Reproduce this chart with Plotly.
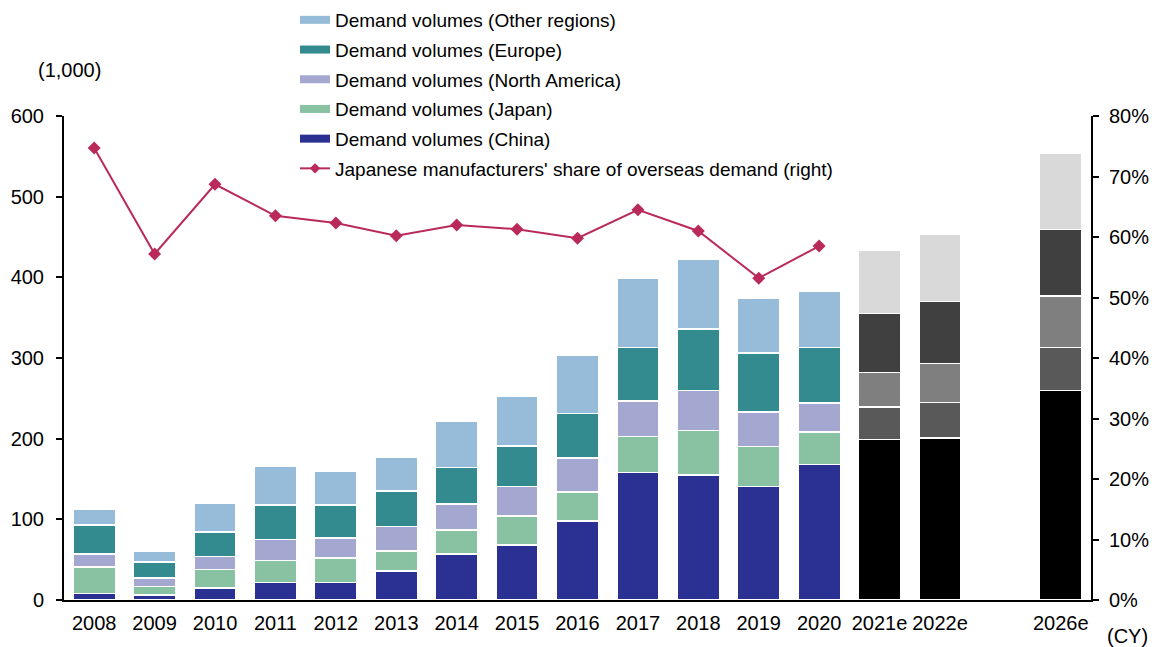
import plotly.graph_objects as go

# categories (empty string = gap slot before 2026e)
years = ["2008", "2009", "2010", "2011", "2012", "2013", "2014", "2015", "2016",
         "2017", "2018", "2019", "2020", "2021e", "2022e", "", "2026e"]

# demand volumes (1,000 units)
china = [8, 6, 15, 22, 22, 36, 57, 68, 98, 158, 155, 141, 168, 199, 201, None, 260]
japan = [33, 11, 23, 27, 30, 25, 30, 36, 36, 45, 55, 49, 40, 40, 44, None, 53]
north_america = [16, 10, 16, 26, 25, 30, 32, 37, 42, 44, 50, 43, 36, 43, 48, None, 64]
europe = [36, 20, 30, 43, 41, 44, 45, 50, 55, 66, 76, 73, 69, 73, 77, None, 82]
other = [20, 14, 36, 48, 41, 42, 57, 62, 72, 86, 86, 68, 70, 79, 84, None, 95]

# Japanese manufacturers' share of overseas demand (right axis)
share = [0.747, 0.572, 0.687, 0.635, 0.623, 0.602, 0.620, 0.613, 0.598, 0.645,
         0.610, 0.532, 0.585, None, None, None, None]

n_actual = 13
x = list(range(len(years)))

series = [
    ("Demand volumes (China)", china, "#2B3192", "#000000"),
    ("Demand volumes (Japan)", japan, "#88C2A2", "#595959"),
    ("Demand volumes (North America)", north_america, "#A4A8D0", "#7F7F7F"),
    ("Demand volumes (Europe)", europe, "#338A8F", "#404040"),
    ("Demand volumes (Other regions)", other, "#97BCD9", "#D9D9D9"),
]

fig = go.Figure()

for name, vals, col, grey in series:
    colors = [col if i < n_actual else grey for i in range(len(years))]
    fig.add_trace(go.Bar(
        x=x, y=vals, name=name, marker=dict(color=colors, line=dict(color="white", width=1.5)),
        width=0.7, showlegend=False,
    ))

fig.add_trace(go.Scatter(
    x=x, y=share, yaxis="y2", mode="lines+markers", showlegend=False,
    line=dict(color="#B92A5B", width=2),
    marker=dict(symbol="diamond", size=10, color="#B92A5B"),
))

# legend entries (thick lines, like the original)
rank = 1
for name, vals, col, grey in reversed(series):
    fig.add_trace(go.Scatter(
        x=[None], y=[None], mode="lines", name=name, legendgroup=name, legendrank=rank,
        line=dict(color=col, width=8),
    ))
    rank += 1
fig.add_trace(go.Scatter(
    x=[None], y=[None], yaxis="y2", mode="lines+markers",
    name="Japanese manufacturers' share of overseas demand (right)",
    legendgroup="share", legendrank=rank,
    line=dict(color="#B92A5B", width=2),
    marker=dict(symbol="diamond", size=8, color="#B92A5B"),
))

# page has an 8px body margin, so the figure is made 8px smaller
W, H = 1150, 639
ml, mr, mt, mb = 56, 67, 108, 47
pw, ph = W - ml - mr, H - mt - mb
left, bottom = 8 + ml, 8 + H - mb   # plot area corner in page pixels


def px(xp):
    return (xp - left) / pw


def py(yp):
    return (bottom - yp) / ph


fig.update_layout(
    width=W, height=H,
    barmode="stack",
    plot_bgcolor="white", paper_bgcolor="white",
    font=dict(family="Liberation Sans, Arial", size=20, color="black"),
    margin=dict(l=ml, r=mr, t=mt, b=mb, autoexpand=False),
    legend=dict(
        x=px(295), y=py(1),
        xanchor="left", yanchor="top",
        font=dict(size=19), tracegroupgap=2, bgcolor="rgba(0,0,0,0)",
    ),
    xaxis=dict(
        range=[-0.5, len(years) - 0.5], tickmode="array", tickvals=x, ticktext=years,
        tickangle=0, showline=True, linecolor="black", linewidth=2, ticks="",
        showgrid=False, zeroline=False, ticklabelstandoff=4,
    ),
    yaxis=dict(
        range=[0, 600], dtick=100, showline=True, linecolor="black", linewidth=2,
        ticks="outside", ticklen=6, tickwidth=2, tickcolor="black", showgrid=False,
        zeroline=False, ticklabelstandoff=8,
    ),
    yaxis2=dict(
        range=[0, 0.8], dtick=0.1, tickformat=".0%", overlaying="y", side="right",
        showline=True, linecolor="black", linewidth=2, ticks="outside", ticklen=6,
        tickwidth=2, tickcolor="black", showgrid=False, zeroline=False,
        ticklabelstandoff=6,
    ),
    annotations=[
        dict(text="(1,000)", x=px(69), y=py(70), xanchor="center", yanchor="middle",
             xref="paper", yref="paper", showarrow=False),
        dict(text="(CY)", x=px(1127), y=py(636), xanchor="center", yanchor="middle",
             xref="paper", yref="paper", showarrow=False),
    ],
)

fig.write_html("out.html")
